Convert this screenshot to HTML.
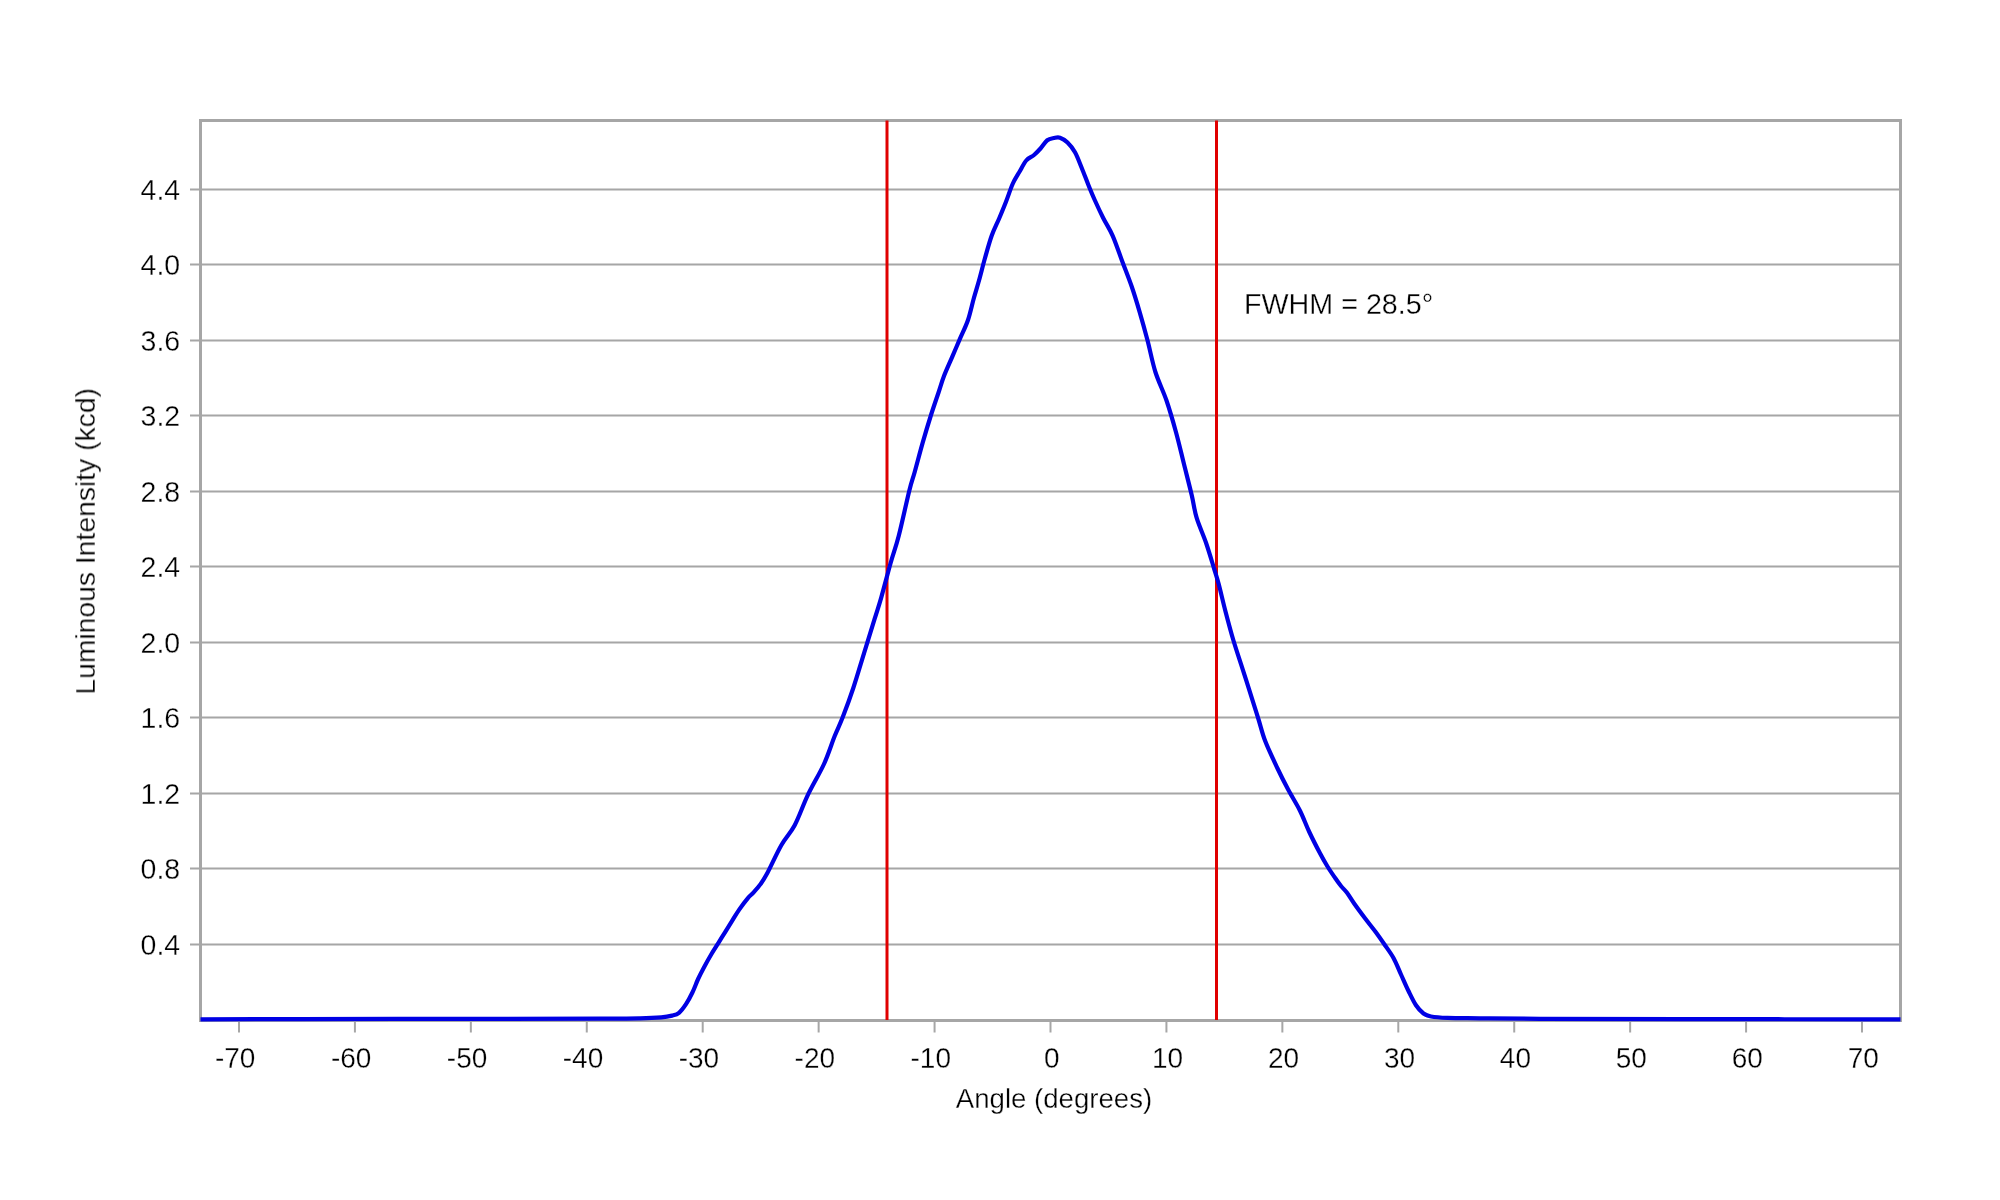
<!DOCTYPE html><html><head><meta charset="utf-8"><style>html,body{margin:0;padding:0;background:#fff;width:2000px;height:1200px;overflow:hidden}svg{position:absolute;left:0;top:0}text{font-family:"Liberation Sans",sans-serif;fill:#000;stroke:#fff;stroke-width:0.3px}</style></head><body>
<svg width="2000" height="1200" viewBox="0 0 2000 1200">
<rect x="0" y="0" width="2000" height="1200" fill="#fff"/>
<line x1="190" y1="944.50" x2="1900" y2="944.50" stroke="#a6a6a6" stroke-width="2"/>
<line x1="190" y1="868.50" x2="1900" y2="868.50" stroke="#a6a6a6" stroke-width="2"/>
<line x1="190" y1="793.50" x2="1900" y2="793.50" stroke="#a6a6a6" stroke-width="2"/>
<line x1="190" y1="717.50" x2="1900" y2="717.50" stroke="#a6a6a6" stroke-width="2"/>
<line x1="190" y1="642.50" x2="1900" y2="642.50" stroke="#a6a6a6" stroke-width="2"/>
<line x1="190" y1="566.50" x2="1900" y2="566.50" stroke="#a6a6a6" stroke-width="2"/>
<line x1="190" y1="491.50" x2="1900" y2="491.50" stroke="#a6a6a6" stroke-width="2"/>
<line x1="190" y1="415.50" x2="1900" y2="415.50" stroke="#a6a6a6" stroke-width="2"/>
<line x1="190" y1="340.50" x2="1900" y2="340.50" stroke="#a6a6a6" stroke-width="2"/>
<line x1="190" y1="264.50" x2="1900" y2="264.50" stroke="#a6a6a6" stroke-width="2"/>
<line x1="190" y1="189.50" x2="1900" y2="189.50" stroke="#a6a6a6" stroke-width="2"/>
<line x1="238.99" y1="1020" x2="238.99" y2="1032.5" stroke="#a6a6a6" stroke-width="2"/>
<line x1="354.92" y1="1020" x2="354.92" y2="1032.5" stroke="#a6a6a6" stroke-width="2"/>
<line x1="470.85" y1="1020" x2="470.85" y2="1032.5" stroke="#a6a6a6" stroke-width="2"/>
<line x1="586.78" y1="1020" x2="586.78" y2="1032.5" stroke="#a6a6a6" stroke-width="2"/>
<line x1="702.71" y1="1020" x2="702.71" y2="1032.5" stroke="#a6a6a6" stroke-width="2"/>
<line x1="818.64" y1="1020" x2="818.64" y2="1032.5" stroke="#a6a6a6" stroke-width="2"/>
<line x1="934.57" y1="1020" x2="934.57" y2="1032.5" stroke="#a6a6a6" stroke-width="2"/>
<line x1="1050.50" y1="1020" x2="1050.50" y2="1032.5" stroke="#a6a6a6" stroke-width="2"/>
<line x1="1166.43" y1="1020" x2="1166.43" y2="1032.5" stroke="#a6a6a6" stroke-width="2"/>
<line x1="1282.36" y1="1020" x2="1282.36" y2="1032.5" stroke="#a6a6a6" stroke-width="2"/>
<line x1="1398.29" y1="1020" x2="1398.29" y2="1032.5" stroke="#a6a6a6" stroke-width="2"/>
<line x1="1514.22" y1="1020" x2="1514.22" y2="1032.5" stroke="#a6a6a6" stroke-width="2"/>
<line x1="1630.15" y1="1020" x2="1630.15" y2="1032.5" stroke="#a6a6a6" stroke-width="2"/>
<line x1="1746.08" y1="1020" x2="1746.08" y2="1032.5" stroke="#a6a6a6" stroke-width="2"/>
<line x1="1862.01" y1="1020" x2="1862.01" y2="1032.5" stroke="#a6a6a6" stroke-width="2"/>
<rect x="200.5" y="120.5" width="1700" height="900" fill="none" stroke="#a6a6a6" stroke-width="3"/>
<line x1="887" y1="120.5" x2="887" y2="1020" stroke="#e00000" stroke-width="3"/>
<line x1="1216.5" y1="120.5" x2="1216.5" y2="1020" stroke="#e00000" stroke-width="3"/>
<path d="M200.50,1019.30 C217.08,1019.27 258.42,1019.17 300.00,1019.10 C341.58,1019.03 400.00,1018.98 450.00,1018.90 C500.00,1018.82 568.33,1018.70 600.00,1018.60 C631.67,1018.50 629.78,1018.52 640.00,1018.30 C650.22,1018.08 655.97,1017.75 661.30,1017.30 C666.63,1016.85 669.05,1016.35 672.00,1015.60 C674.95,1014.85 676.67,1014.70 679.00,1012.80 C681.33,1010.90 683.77,1007.58 686.00,1004.20 C688.23,1000.82 690.38,996.70 692.40,992.50 C694.42,988.30 696.20,983.13 698.10,979.00 C700.00,974.87 701.67,971.70 703.80,967.70 C705.93,963.70 708.53,959.02 710.90,955.00 C713.27,950.98 715.65,947.38 718.00,943.60 C720.35,939.82 722.65,936.08 725.00,932.30 C727.35,928.52 729.73,924.68 732.10,920.90 C734.47,917.12 736.60,913.37 739.20,909.60 C741.80,905.83 745.33,901.13 747.70,898.30 C750.07,895.47 751.27,894.97 753.40,892.60 C755.53,890.23 758.15,887.40 760.50,884.10 C762.85,880.80 764.03,879.27 767.50,872.80 C770.97,866.33 776.77,853.22 781.30,845.30 C785.83,837.38 790.25,833.73 794.70,825.30 C799.15,816.87 803.12,804.92 808.00,794.70 C812.88,784.48 819.55,773.78 824.00,764.00 C828.45,754.22 831.58,743.78 834.70,736.00 C837.82,728.22 839.60,725.30 842.70,717.30 C845.80,709.30 849.75,698.67 853.30,688.00 C856.85,677.33 860.43,664.85 864.00,653.30 C867.57,641.75 871.82,628.03 874.70,618.70 C877.58,609.37 878.63,606.63 881.30,597.30 C883.97,587.97 887.80,572.92 890.70,562.70 C893.60,552.48 895.60,548.00 898.70,536.00 C901.80,524.00 906.63,501.37 909.30,490.70 C911.97,480.03 912.47,480.00 914.70,472.00 C916.93,464.00 920.03,452.03 922.70,442.70 C925.37,433.37 928.03,424.45 930.70,416.00 C933.37,407.55 936.48,398.67 938.70,392.00 C940.92,385.33 941.78,381.78 944.00,376.00 C946.22,370.22 949.33,363.52 952.00,357.30 C954.67,351.08 957.33,344.92 960.00,338.70 C962.67,332.48 965.71,326.70 968.00,320.00 C970.29,313.30 971.92,305.08 973.75,298.50 C975.58,291.92 977.12,287.25 979.00,280.50 C980.88,273.75 982.88,265.50 985.00,258.00 C987.12,250.50 989.38,242.12 991.75,235.50 C994.12,228.88 996.88,223.88 999.25,218.25 C1001.62,212.62 1003.75,207.50 1006.00,201.75 C1008.25,196.00 1010.50,188.75 1012.75,183.75 C1015.00,178.75 1017.25,175.62 1019.50,171.75 C1021.75,167.88 1023.88,163.25 1026.25,160.50 C1028.62,157.75 1031.38,157.25 1033.75,155.25 C1036.12,153.25 1038.25,151.00 1040.50,148.50 C1042.75,146.00 1045.00,142.00 1047.25,140.25 C1049.50,138.50 1051.88,138.43 1054.00,138.00 C1056.12,137.57 1057.75,136.95 1060.00,137.70 C1062.25,138.45 1065.00,140.07 1067.50,142.50 C1070.00,144.93 1072.62,148.00 1075.00,152.25 C1077.38,156.50 1079.50,162.50 1081.75,168.00 C1084.00,173.50 1086.38,180.00 1088.50,185.25 C1090.62,190.50 1092.05,194.04 1094.50,199.50 C1096.95,204.96 1100.17,211.95 1103.20,218.00 C1106.23,224.05 1109.53,228.60 1112.70,235.80 C1115.87,243.00 1119.03,252.75 1122.20,261.20 C1125.37,269.65 1128.80,278.07 1131.70,286.50 C1134.60,294.93 1136.97,302.83 1139.60,311.80 C1142.23,320.77 1144.87,330.27 1147.50,340.30 C1150.13,350.33 1152.23,361.97 1155.40,372.00 C1158.57,382.03 1163.07,390.47 1166.50,400.50 C1169.93,410.53 1173.10,421.65 1176.00,432.20 C1178.90,442.75 1181.27,453.25 1183.90,463.80 C1186.53,474.35 1189.68,486.52 1191.80,495.50 C1193.92,504.48 1194.22,509.78 1196.60,517.70 C1198.98,525.62 1203.20,534.57 1206.10,543.00 C1209.00,551.43 1211.90,561.47 1214.00,568.30 C1216.10,575.13 1216.82,576.93 1218.70,584.00 C1220.58,591.07 1222.87,601.37 1225.30,610.70 C1227.73,620.03 1230.40,630.23 1233.30,640.00 C1236.20,649.77 1239.58,659.52 1242.70,669.30 C1245.82,679.08 1249.33,690.25 1252.00,698.70 C1254.67,707.15 1256.48,712.90 1258.70,720.00 C1260.92,727.10 1262.20,733.30 1265.30,741.30 C1268.40,749.30 1273.52,760.00 1277.30,768.00 C1281.08,776.00 1284.22,782.18 1288.00,789.30 C1291.78,796.42 1296.45,803.58 1300.00,810.70 C1303.55,817.82 1305.97,824.90 1309.30,832.00 C1312.63,839.10 1316.97,847.55 1320.00,853.30 C1323.03,859.05 1325.00,862.42 1327.50,866.50 C1330.00,870.58 1332.75,874.50 1335.00,877.75 C1337.25,881.00 1339.00,883.50 1341.00,886.00 C1343.00,888.50 1344.75,889.75 1347.00,892.75 C1349.25,895.75 1351.50,899.75 1354.50,904.00 C1357.50,908.25 1361.50,913.62 1365.00,918.25 C1368.50,922.88 1372.25,927.38 1375.50,931.75 C1378.75,936.12 1381.50,940.12 1384.50,944.50 C1387.50,948.88 1390.75,953.00 1393.50,958.00 C1396.25,963.00 1398.50,969.00 1401.00,974.50 C1403.50,980.00 1406.00,985.88 1408.50,991.00 C1411.00,996.12 1413.50,1001.50 1416.00,1005.25 C1418.50,1009.00 1421.00,1011.62 1423.50,1013.50 C1426.00,1015.38 1427.00,1015.77 1431.00,1016.50 C1435.00,1017.23 1439.33,1017.60 1447.50,1017.90 C1455.67,1018.20 1464.58,1018.15 1480.00,1018.30 C1495.42,1018.45 1503.33,1018.67 1540.00,1018.80 C1576.67,1018.93 1639.92,1019.00 1700.00,1019.10 C1760.08,1019.20 1867.08,1019.35 1900.50,1019.40" fill="none" stroke="#0000e4" stroke-width="4.2" stroke-linejoin="round" stroke-linecap="butt"/>
<g style="will-change:transform">
<text transform="translate(180.20,954.80) scale(1,1.06)" x="0" y="0" font-size="28.5" text-anchor="end">0.4</text>
<text transform="translate(180.20,878.80) scale(1,1.06)" x="0" y="0" font-size="28.5" text-anchor="end">0.8</text>
<text transform="translate(180.20,803.80) scale(1,1.06)" x="0" y="0" font-size="28.5" text-anchor="end">1.2</text>
<text transform="translate(180.20,727.80) scale(1,1.06)" x="0" y="0" font-size="28.5" text-anchor="end">1.6</text>
<text transform="translate(180.20,652.80) scale(1,1.06)" x="0" y="0" font-size="28.5" text-anchor="end">2.0</text>
<text transform="translate(180.20,576.80) scale(1,1.06)" x="0" y="0" font-size="28.5" text-anchor="end">2.4</text>
<text transform="translate(180.20,501.80) scale(1,1.06)" x="0" y="0" font-size="28.5" text-anchor="end">2.8</text>
<text transform="translate(180.20,425.80) scale(1,1.06)" x="0" y="0" font-size="28.5" text-anchor="end">3.2</text>
<text transform="translate(180.20,350.80) scale(1,1.06)" x="0" y="0" font-size="28.5" text-anchor="end">3.6</text>
<text transform="translate(180.20,274.80) scale(1,1.06)" x="0" y="0" font-size="28.5" text-anchor="end">4.0</text>
<text transform="translate(180.20,199.80) scale(1,1.06)" x="0" y="0" font-size="28.5" text-anchor="end">4.4</text>
<text transform="translate(235.19,1068.00) scale(1,1.06)" x="0" y="0" font-size="28" text-anchor="middle">-70</text>
<text transform="translate(351.12,1068.00) scale(1,1.06)" x="0" y="0" font-size="28" text-anchor="middle">-60</text>
<text transform="translate(467.05,1068.00) scale(1,1.06)" x="0" y="0" font-size="28" text-anchor="middle">-50</text>
<text transform="translate(582.98,1068.00) scale(1,1.06)" x="0" y="0" font-size="28" text-anchor="middle">-40</text>
<text transform="translate(698.91,1068.00) scale(1,1.06)" x="0" y="0" font-size="28" text-anchor="middle">-30</text>
<text transform="translate(814.84,1068.00) scale(1,1.06)" x="0" y="0" font-size="28" text-anchor="middle">-20</text>
<text transform="translate(930.77,1068.00) scale(1,1.06)" x="0" y="0" font-size="28" text-anchor="middle">-10</text>
<text transform="translate(1051.70,1068.00) scale(1,1.06)" x="0" y="0" font-size="28" text-anchor="middle">0</text>
<text transform="translate(1167.63,1068.00) scale(1,1.06)" x="0" y="0" font-size="28" text-anchor="middle">10</text>
<text transform="translate(1283.56,1068.00) scale(1,1.06)" x="0" y="0" font-size="28" text-anchor="middle">20</text>
<text transform="translate(1399.49,1068.00) scale(1,1.06)" x="0" y="0" font-size="28" text-anchor="middle">30</text>
<text transform="translate(1515.42,1068.00) scale(1,1.06)" x="0" y="0" font-size="28" text-anchor="middle">40</text>
<text transform="translate(1631.35,1068.00) scale(1,1.06)" x="0" y="0" font-size="28" text-anchor="middle">50</text>
<text transform="translate(1747.28,1068.00) scale(1,1.06)" x="0" y="0" font-size="28" text-anchor="middle">60</text>
<text transform="translate(1863.21,1068.00) scale(1,1.06)" x="0" y="0" font-size="28" text-anchor="middle">70</text>
<text transform="translate(1054.00,1108.00) scale(1,1.0)" x="0" y="0" font-size="27.6" text-anchor="middle">Angle (degrees)</text>
<text transform="translate(95.00,541.40) rotate(-90) scale(1,1.0)" x="0" y="0" font-size="28.3" text-anchor="middle">Luminous Intensity (kcd)</text>
<text transform="translate(1244.00,314.00) scale(1,1.06)" x="0" y="0" font-size="28.7" text-anchor="start">FWHM = 28.5°</text>
</g>
</svg></body></html>
